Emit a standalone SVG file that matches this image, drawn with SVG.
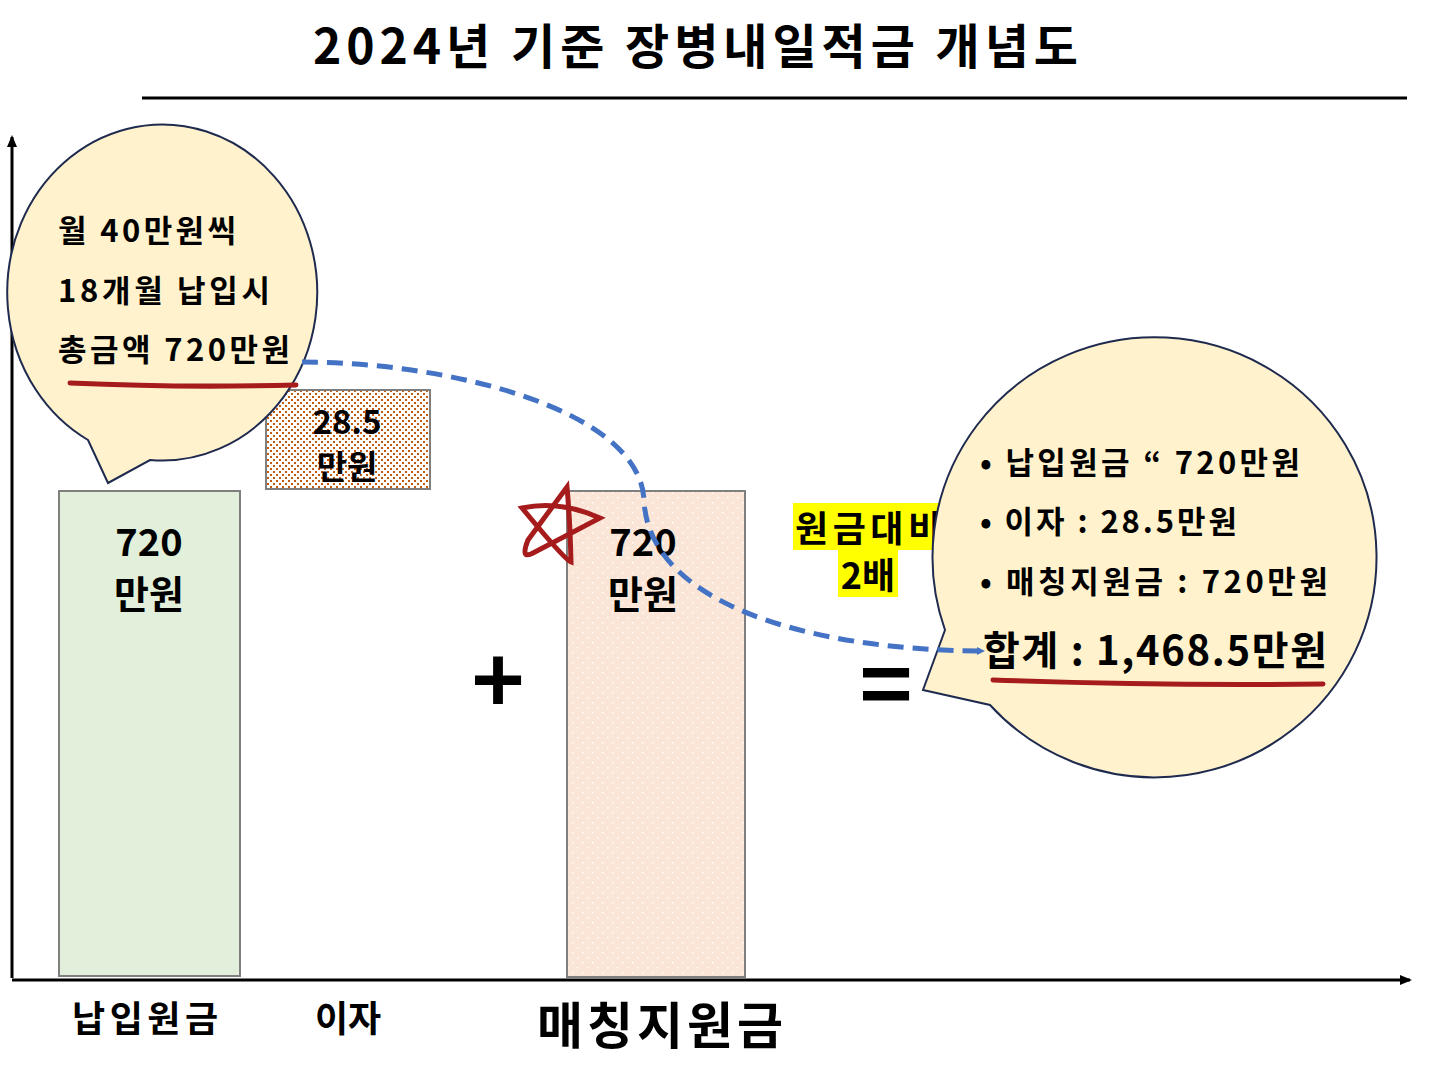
<svg xmlns="http://www.w3.org/2000/svg" width="1434" height="1087" viewBox="0 0 1434 1087">
<defs>
<style>
text{font-family:"Noto Sans CJK KR","Noto Sans",sans-serif;font-weight:bold;fill:#000}
.bub{fill:#fff2cc;stroke:#1f2a4f;stroke-width:2}
.red{fill:none;stroke:#a61c1c;stroke-width:5;stroke-linecap:round}
</style>
<pattern id="dots" width="6" height="6" patternUnits="userSpaceOnUse"><rect width="6" height="6" fill="#fff"/><rect x="0" y="0" width="2" height="2" fill="#c55a11"/><rect x="3" y="3" width="2" height="2" fill="#c55a11"/></pattern>
<pattern id="pink" width="10" height="10" patternUnits="userSpaceOnUse"><rect width="10" height="10" fill="#fbe5d6"/><rect x="2" y="2" width="1.5" height="1.5" fill="#fff"/><rect x="7" y="7" width="1.5" height="1.5" fill="#fff"/></pattern>
<marker id="ar" markerWidth="8" markerHeight="8" refX="6" refY="4" orient="auto" markerUnits="userSpaceOnUse" viewBox="0 0 8 8"><path d="M0,0L8,4L0,8Z" fill="#4472c4"/></marker>
<marker id="ax" markerWidth="12" markerHeight="10" refX="10" refY="5" orient="auto" markerUnits="userSpaceOnUse"><path d="M0,0L12,5L0,10Z" fill="#000"/></marker>
</defs>
<rect width="1434" height="1087" fill="#fff"/>
<text x="313" y="64" font-size="48" textLength="765" lengthAdjust="spacing">2024년 기준 장병내일적금 개념도</text>
<line x1="142" y1="98" x2="1407" y2="98" stroke="#000" stroke-width="3"/>
<g id="axes" stroke="#000" stroke-width="3">
<line x1="12" y1="978" x2="12" y2="137" marker-end="url(#ax)"/>
<line x1="12" y1="980" x2="1410" y2="980" marker-end="url(#ax)"/>
</g>
<g id="bar1"><rect x="59" y="491" width="181" height="485" fill="#e2efda" stroke="#7f7f7f" stroke-width="2"/>
<text x="149" y="556" font-size="38" text-anchor="middle">720</text><text x="149" y="608" font-size="38" text-anchor="middle">만원</text>
<text x="72" y="1032" font-size="36" textLength="146" lengthAdjust="spacing">납입원금</text></g>
<g id="bar2"><rect x="266" y="390" width="164" height="99" fill="url(#dots)" stroke="#7f7f7f" stroke-width="2"/>
<text x="347" y="434" font-size="33" text-anchor="middle">28.5</text><text x="347" y="479" font-size="33" text-anchor="middle">만원</text>
<text x="348" y="1032" font-size="36" text-anchor="middle">이자</text></g>
<g id="bar3"><rect x="567" y="491" width="178" height="486" fill="url(#pink)" stroke="#7f7f7f" stroke-width="2"/>
<text x="643" y="556" font-size="38" text-anchor="middle">720</text><text x="643" y="608" font-size="38" text-anchor="middle">만원</text>
<text x="537" y="1044" font-size="50" textLength="246" lengthAdjust="spacing">매칭지원금</text></g>
<g id="star"><path d="M522,508 Q560,500 600,518 L533,553 Q520,560 528,540 L567,487 Q570,520 571,562 Q565,560 522,508Z" class="red" stroke-width="4"/></g>
<text x="498" y="714" font-size="90" text-anchor="middle">+</text>
<text x="886" y="718" font-size="90" text-anchor="middle">=</text>
<g id="bubble1">
<path class="bub" d="M108,483 L88,440 A155,168 0 1 1 150,460 Z"/>
<text x="58" y="242" font-size="31" textLength="178" lengthAdjust="spacing">월 40만원씩</text>
<text x="58" y="302" font-size="31" textLength="212" lengthAdjust="spacing">18개월 납입시</text>
<text x="58" y="361" font-size="31" textLength="232" lengthAdjust="spacing">총금액 720만원</text>
<path class="red" d="M70,383 Q180,388 296,385"/>
</g>
<g id="ratio"><rect x="793" y="503" width="150" height="47" fill="#ffff00"/><rect x="838" y="550" width="60" height="47" fill="#ffff00"/>
<text x="868" y="542" font-size="36" text-anchor="middle" textLength="146" lengthAdjust="spacing">원금대비</text><text x="868" y="589" font-size="36" text-anchor="middle">2배</text></g>
<g id="bubble2">
<path class="bub" d="M923,690 L945,630 A222,220 0 1 1 990,705 Z"/>
<text x="980" y="474" font-size="31" textLength="320" lengthAdjust="spacing">• 납입원금 “ 720만원</text>
<text x="980" y="533" font-size="31" textLength="257" lengthAdjust="spacing">• 이자 : 28.5만원</text>
<text x="980" y="593" font-size="31" textLength="348" lengthAdjust="spacing">• 매칭지원금 : 720만원</text>
<text x="983" y="665" font-size="40" textLength="344" lengthAdjust="spacing">합계 : 1,468.5만원</text>
<path class="red" d="M993,680 Q1160,686 1323,684"/>
</g>
<g id="connectors"><path d="M302,362 C450,362 640,410 644,500 C648,600 800,650 983,651" fill="none" stroke="#4472c4" stroke-width="5" stroke-dasharray="16,9" marker-end="url(#ar)"/></g>
</svg>
